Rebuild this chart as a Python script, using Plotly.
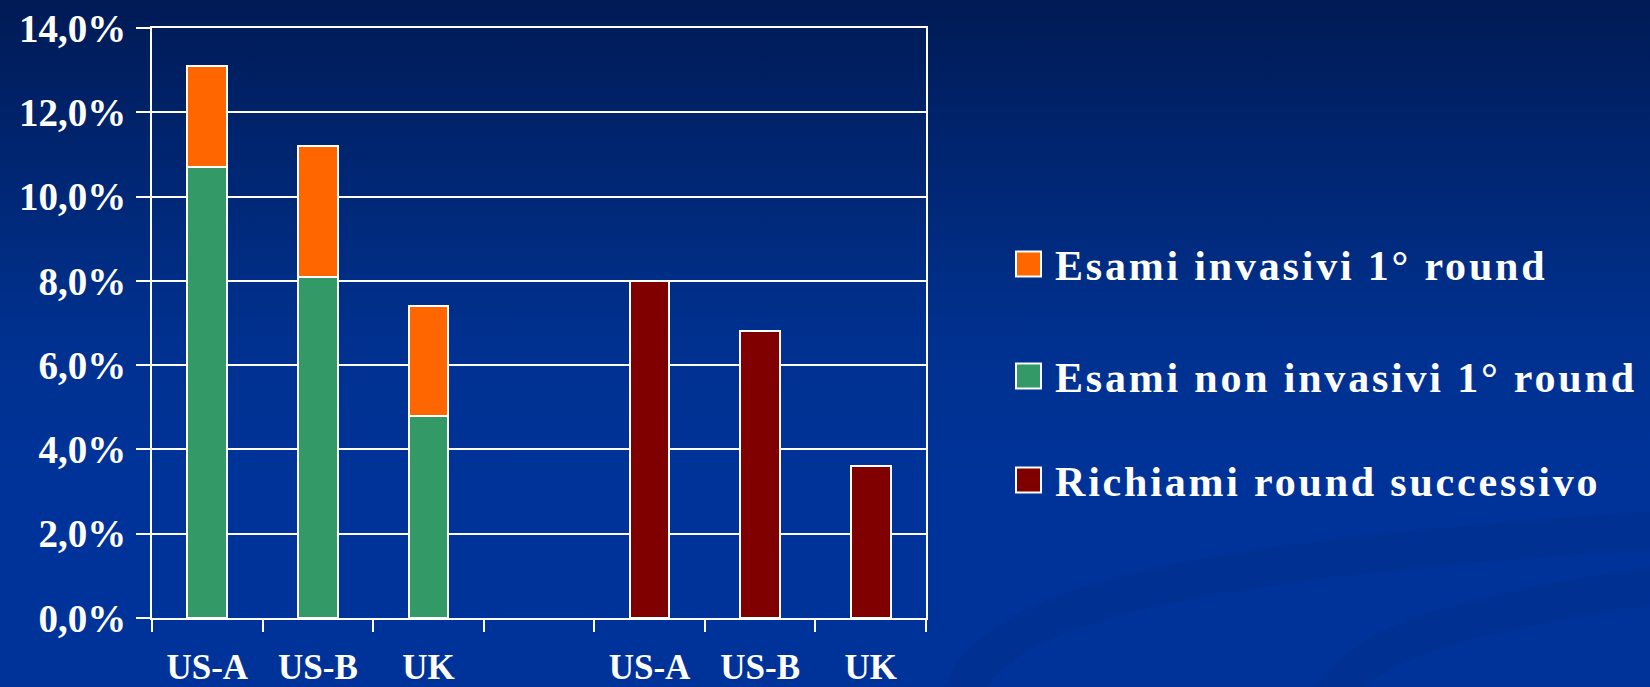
import base64
import plotly.graph_objects as go

# ---- data ----
categories = ["US-A", "US-B", "UK", "", "US-A", "US-B", "UK"]
slots = [0, 1, 2, 3, 4, 5, 6]
first_round_slots = [0, 1, 2]
next_round_slots = [4, 5, 6]
non_invasive_1st = [10.7, 8.1, 4.8]      # Esami non invasivi 1° round
invasive_1st = [2.4, 3.1, 2.6]           # Esami invasivi 1° round (stacked on top)
recalls_next = [8.0, 6.8, 3.6]           # Richiami round successivo
series_names = ["Esami invasivi 1° round", "Esami non invasivi 1° round", "Richiami round successivo"]
series_colors = ["#ff6600", "#339966", "#800000"]
y_tick_values = [0, 2, 4, 6, 8, 10, 12, 14]
y_tick_text = [f"{v:.1f}%".replace(".", ",") for v in y_tick_values]

# ---- layout geometry (pixels) ----
W, H = 1650, 687
L, R, T, B = 152, 1650 - 926, 28, 687 - 618
PW, PH = W - L - R, H - T - B
FONT = "Liberation Serif"

def px_x(x):
    return (x - L) / PW

def px_y(y):
    return 1 - (y - T) / PH

# background gradient as svg image
svg = f'''<svg xmlns="http://www.w3.org/2000/svg" width="{W}" height="{H}" viewBox="0 0 {W} {H}" preserveAspectRatio="none">
<defs><linearGradient id="g" x1="0" y1="0" x2="0" y2="1">
<stop offset="0" stop-color="#001a55"/>
<stop offset="0.22" stop-color="#00256f"/>
<stop offset="0.5" stop-color="#003190"/>
<stop offset="0.7" stop-color="#003399"/>
<stop offset="1" stop-color="#003399"/>
</linearGradient></defs>
<rect width="{W}" height="{H}" fill="url(#g)"/>
<path d="M 960 700 C 990 600 1200 560 1660 530" stroke="#002f8c" stroke-opacity="0.55" stroke-width="38" fill="none"/>
<path d="M 1330 700 C 1360 640 1480 610 1660 585" stroke="#002f8c" stroke-opacity="0.55" stroke-width="38" fill="none"/>
</svg>'''
bg_uri = "data:image/svg+xml;base64," + base64.b64encode(svg.encode()).decode()

fig = go.Figure()
bar_line = dict(color="white", width=2)
fig.add_trace(go.Bar(x=first_round_slots, y=non_invasive_1st, name=series_names[1],
                     marker=dict(color=series_colors[1], line=bar_line), width=0.36, showlegend=False))
fig.add_trace(go.Bar(x=first_round_slots, y=invasive_1st, name=series_names[0],
                     marker=dict(color=series_colors[0], line=bar_line), width=0.36, showlegend=False))
fig.add_trace(go.Bar(x=next_round_slots, y=recalls_next, name=series_names[2],
                     marker=dict(color=series_colors[2], line=bar_line), width=0.36, showlegend=False))

# manual legend
legend_rows_y = [264, 376, 480]
shapes = []
annotations = []
for name, color, ry in zip(series_names, series_colors, legend_rows_y):
    shapes.append(dict(type="rect", xref="paper", yref="paper",
                       x0=px_x(1016), x1=px_x(1041), y0=px_y(ry + 12.5), y1=px_y(ry - 12.5),
                       fillcolor=color, line=dict(color="white", width=2)))
    annotations.append(dict(xref="paper", yref="paper", x=px_x(1053), y=px_y(ry + 2),
                            xanchor="left", yanchor="middle", showarrow=False,
                            text=f'<span style="letter-spacing:2.8px">{name}</span>',
                            font=dict(family=FONT, size=42, color="white", weight="bold")))

fig.update_layout(
    width=W, height=H,
    margin=dict(l=L, r=R, t=T, b=B, pad=0, autoexpand=False),
    paper_bgcolor="#003399", plot_bgcolor="rgba(0,0,0,0)",
    barmode="stack", bargap=0,
    separators=",.",
    font=dict(family=FONT, color="white"),
    shapes=shapes, annotations=annotations,
    images=[dict(source=bg_uri, xref="paper", yref="paper",
                 x=-L / PW, y=1 + T / PH, sizex=W / PW, sizey=H / PH,
                 xanchor="left", yanchor="top", sizing="stretch", layer="below")],
)
fig.update_xaxes(
    automargin=False,
    range=[-0.5, 6.5], tickmode="array", tickvals=slots, ticktext=categories,
    ticks="", showgrid=False, zeroline=False,
    showline=True, linecolor="white", linewidth=2, mirror=True,
    tickfont=dict(family=FONT, size=35, color="white", weight="bold"),
    ticklabelstandoff=17,
    minor=dict(tick0=-0.5, dtick=1, ticks="outside", ticklen=12, tickcolor="white", tickwidth=2),
)
fig.update_yaxes(
    automargin=False,
    range=[0, 14], tickmode="array", tickvals=y_tick_values, ticktext=y_tick_text,
    showgrid=True, gridcolor="white", gridwidth=2, zeroline=False,
    showline=True, linecolor="white", linewidth=2, mirror=True,
    ticks="outside", ticklen=14, tickcolor="white", tickwidth=2,
    tickfont=dict(family=FONT, size=39, color="white", weight="bold"),
    ticklabelstandoff=2,
)

fig.write_html("out.html", config={"displayModeBar": False},
               post_script="document.body.style.margin='0';")
